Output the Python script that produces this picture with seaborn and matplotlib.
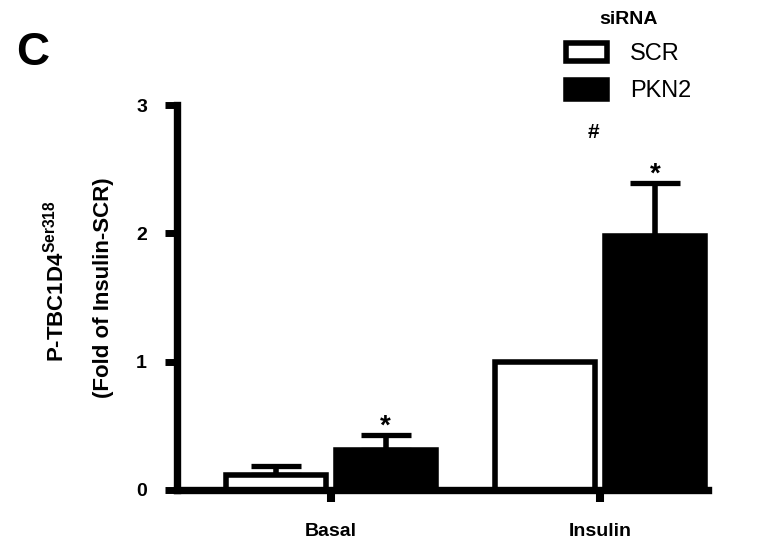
import pandas as pd
import seaborn as sns
import matplotlib
matplotlib.use("Agg")
from matplotlib import pyplot as plt

conditions = ["Basal", "Insulin"]
sirna = ["SCR", "PKN2"]
scr_mean = [0.12, 1.0]
scr_err = [0.07, 0.0]
pkn2_mean = [0.31, 1.98]
pkn2_err = [0.12, 0.41]
yticks = [0, 1, 2, 3]

df = pd.DataFrame({
    "condition": conditions * 2,
    "siRNA": ["SCR"] * 2 + ["PKN2"] * 2,
    "value": scr_mean + pkn2_mean,
})

sns.set_theme(style="ticks")
plt.rcParams["font.family"] = ["Liberation Sans", "DejaVu Sans"]
plt.rcParams["mathtext.fontset"] = "custom"
plt.rcParams["mathtext.rm"] = "Liberation Sans"
plt.rcParams["mathtext.bf"] = "Liberation Sans:bold"
plt.rcParams["text.color"] = "black"
plt.rcParams["axes.labelcolor"] = "black"
plt.rcParams["xtick.color"] = "black"
plt.rcParams["ytick.color"] = "black"

fig = plt.figure(figsize=(7.73, 5.45), dpi=100)
ax = fig.add_axes([177 / 773, 1 - 490 / 545, 531 / 773, 385 / 545])

sns.barplot(data=df, x="condition", y="value", hue="siRNA",
            order=conditions, hue_order=sirna,
            palette={"SCR": "white", "PKN2": "black"},
            edgecolor="black", linewidth=4, width=0.815, gap=0.09,
            errorbar=None, legend=False, ax=ax)

# one-sided error bars + stars
errs = {"SCR": scr_err, "PKN2": pkn2_err}
for cont, name in zip(ax.containers, sirna):
    for bar, e in zip(cont.patches, errs[name]):
        if e <= 0:
            continue
        xc = bar.get_x() + bar.get_width() / 2
        top = bar.get_height()
        ax.errorbar(xc, top, yerr=[[0], [e]], fmt="none", ecolor="black",
                    elinewidth=4, capsize=18, capthick=3.8, zorder=0.5)
        if name == "PKN2":
            ax.annotate("*", xy=(xc, top + e), xytext=(0, 1),
                        textcoords="offset points", ha="center",
                        va="baseline", fontsize=20, fontweight="bold")

ax.text(0.974, 2.74, "#", ha="center", va="baseline", fontsize=15,
        fontweight="bold")

ax.set_xlim(-0.57, 1.40)
ax.set_ylim(0, 3)
ax.set_yticks(yticks)
ax.set_xlabel("")
ax.set_ylabel("")
sns.despine(ax=ax)
for s in ["left", "bottom"]:
    ax.spines[s].set_linewidth(5.3)
    ax.spines[s].set_color("black")
ax.tick_params(axis="y", length=8.6, width=5, pad=13, labelsize=14,
               color="black", labelcolor="black")
ax.tick_params(axis="x", length=8.6, width=5.8, pad=15, labelsize=14,
               color="black", labelcolor="black")
for lbl in ax.get_xticklabels() + ax.get_yticklabels():
    lbl.set_fontweight("bold")

fig.text(56 / 773, 1 - 281 / 545, "P-TBC1D4$^{\\mathbf{Ser318}}$",
         rotation=90, ha="center", va="center", fontsize=16,
         fontweight="bold")
fig.text(103 / 773, 1 - 288 / 545, "(Fold of Insulin-SCR)",
         rotation=90, ha="center", va="center", fontsize=16,
         fontweight="bold")

fig.text(16 / 773, 1 - 65 / 545, "C", ha="left", va="baseline",
         fontsize=33, fontweight="bold")

leg = ax.legend(ax.containers, sirna, title="siRNA", frameon=False,
                loc="upper left", bbox_to_anchor=(566 / 773, 1 - 11 / 545),
                bbox_transform=fig.transFigure, borderpad=0,
                borderaxespad=0, fontsize=17, handlelength=1.75,
                handleheight=0.85, handletextpad=0.95, labelspacing=0.62,
                title_fontproperties={"weight": "bold", "size": 14})

fig.savefig("out.png", dpi=100)
